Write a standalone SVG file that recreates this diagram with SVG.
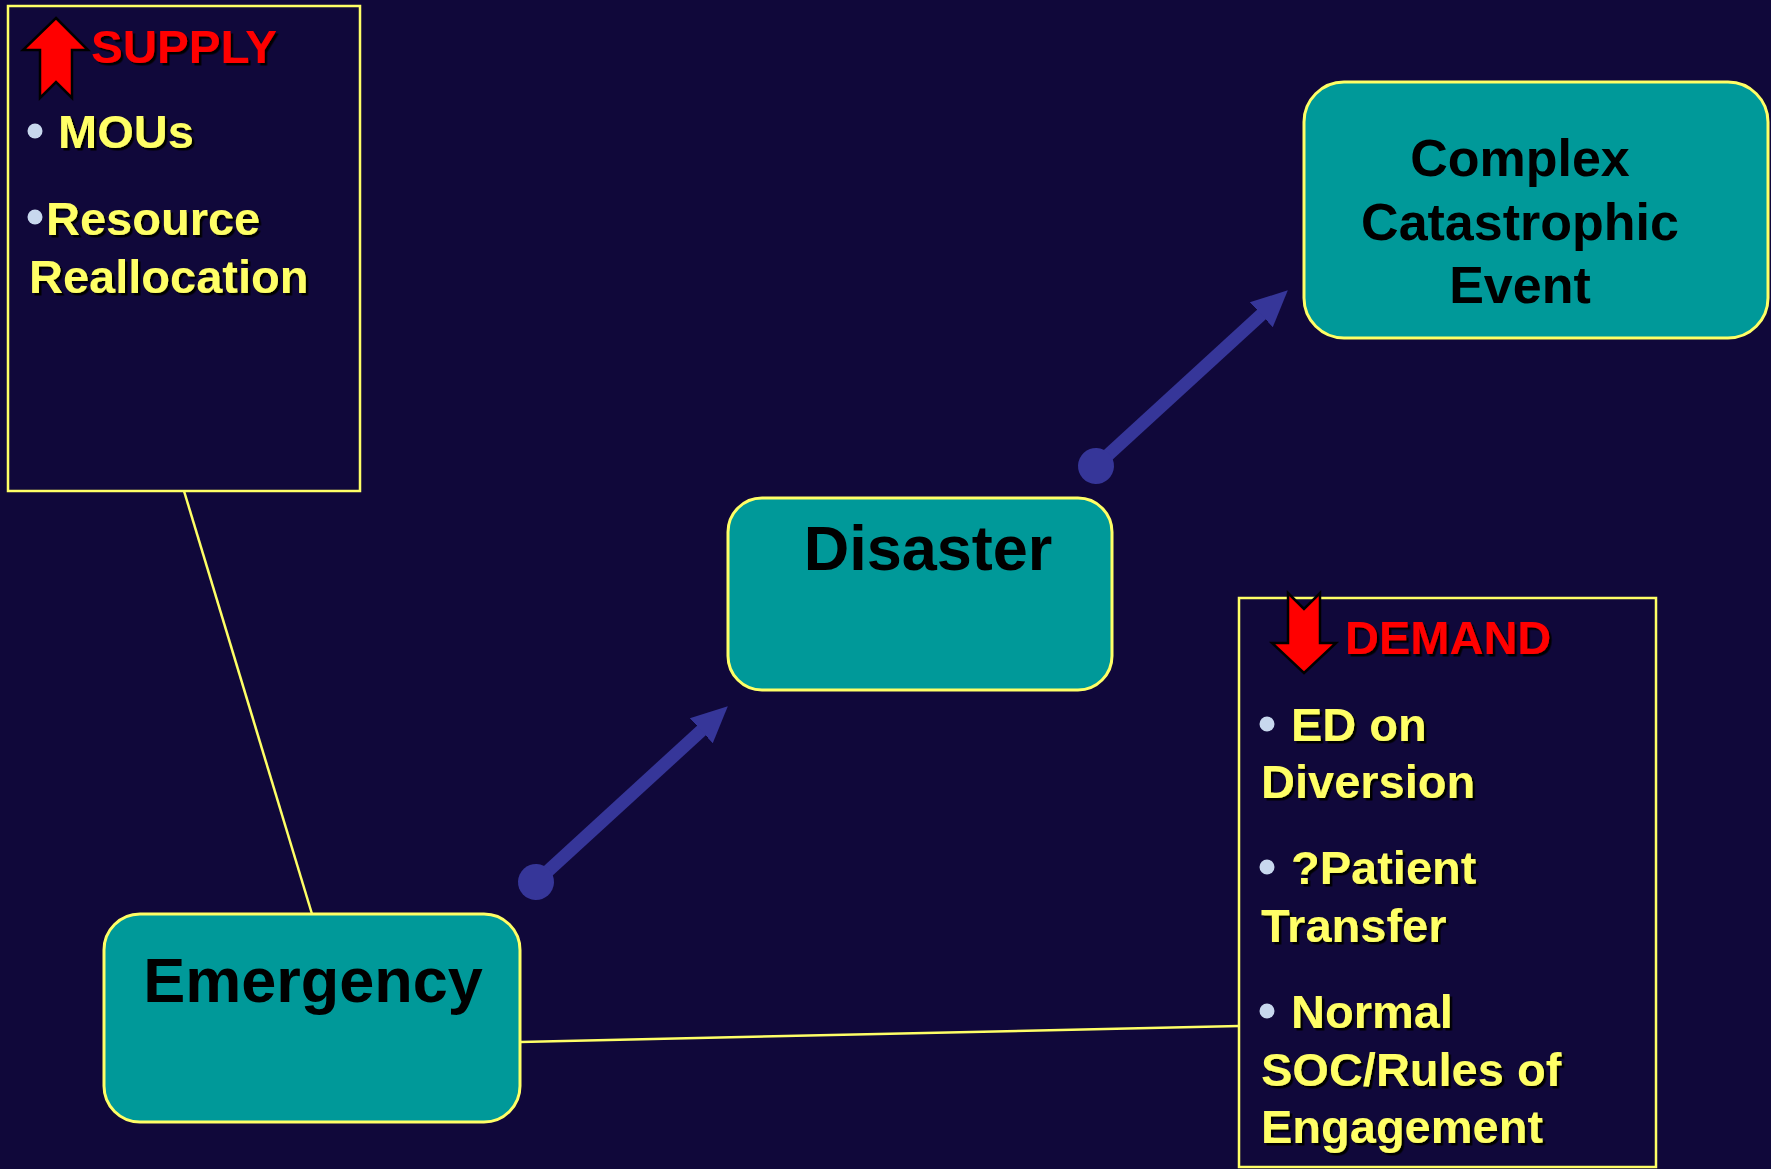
<svg xmlns="http://www.w3.org/2000/svg" width="1771" height="1169" viewBox="0 0 1771 1169">
<style>
.bg{fill:#10083A}
.box{fill:#009999;stroke:#FFFF66;stroke-width:3}
.panel{fill:none;stroke:#FFFF66;stroke-width:2.5}
.node{font-family:"Liberation Sans",Arial,sans-serif;font-weight:bold;fill:#000000}
.yel{font-family:"Liberation Sans",Arial,sans-serif;font-weight:bold;font-size:47px;fill:#FFFF66;filter:url(#sh)}
.red{font-family:"Liberation Sans",Arial,sans-serif;font-weight:bold;font-size:47px;fill:#FF0000;filter:url(#sh)}
.bul{fill:#C8D8EE}
.conn{stroke:#FFFF66;stroke-width:2.5;fill:none}
.flow{stroke:#363699;stroke-width:13;fill:none;marker-start:url(#dot);marker-end:url(#head)}
.bigarrow{fill:#FF0000;stroke:#000000;stroke-width:2.5;stroke-linejoin:miter}
</style>
<defs>
<filter id="sh" x="-10%" y="-20%" width="130%" height="150%">
<feDropShadow dx="2.5" dy="2.5" stdDeviation="0.6" flood-color="#000000" flood-opacity="1"/>
</filter>
<marker id="head" markerUnits="userSpaceOnUse" viewBox="0 -18 37 36" refX="1" refY="0" markerWidth="37" markerHeight="36" orient="auto">
<path d="M0,-17 L36,0 L0,17 Z" fill="#363699"/>
</marker>
<marker id="dot" markerUnits="userSpaceOnUse" viewBox="-19 -19 38 38" refX="0" refY="0" markerWidth="38" markerHeight="38" orient="auto">
<circle cx="0" cy="0" r="18" fill="#363699"/>
</marker>
</defs>
<rect class="bg" x="0" y="0" width="1771" height="1169"/>

<g id="connectors">
<line class="conn" x1="184" y1="491" x2="312" y2="914"/>
<line class="conn" x1="520" y1="1042" x2="1239" y2="1026"/>
<path class="flow" d="M536,882 L702,730"/>
<path class="flow" d="M1096,466 L1262,314"/>
</g>

<g id="supply">
<rect class="panel" x="8" y="6" width="352" height="485"/>
<polygon class="bigarrow" points="56,18 88,50 72,50 72,98 56,82 40,98 40,50 23,50"/>
<text class="red" x="91" y="63" textLength="186" lengthAdjust="spacingAndGlyphs">SUPPLY</text>
<circle class="bul" cx="35" cy="131" r="7.5"/>
<text class="yel" x="58" y="148">MOUs</text>
<circle class="bul" cx="35" cy="217" r="7.5"/>
<text class="yel" x="46" y="235">Resource</text>
<text class="yel" x="29" y="293">Reallocation</text>
</g>

<g id="demand">
<rect class="panel" x="1239" y="598" width="417" height="569"/>
<polygon class="bigarrow" points="1288,593 1304,609 1320,593 1320,643 1336,643 1304,673 1272,643 1288,643"/>
<text class="red" x="1345" y="654">DEMAND</text>
<circle class="bul" cx="1267" cy="724" r="7.5"/>
<text class="yel" x="1291" y="741">ED on</text>
<text class="yel" x="1261" y="798">Diversion</text>
<circle class="bul" cx="1267" cy="867" r="7.5"/>
<text class="yel" x="1291" y="884">?Patient</text>
<text class="yel" x="1261" y="942">Transfer</text>
<circle class="bul" cx="1267" cy="1011" r="7.5"/>
<text class="yel" x="1291" y="1028">Normal</text>
<text class="yel" x="1261" y="1086">SOC/Rules of</text>
<text class="yel" x="1261" y="1143">Engagement</text>
</g>

<g id="emergency">
<rect class="box" x="104" y="914" width="416" height="208" rx="36" ry="36"/>
<text class="node" x="313" y="1002" font-size="63" text-anchor="middle">Emergency</text>
</g>

<g id="disaster">
<rect class="box" x="728" y="498" width="384" height="192" rx="34" ry="34"/>
<text class="node" x="928" y="570" font-size="63" text-anchor="middle">Disaster</text>
</g>

<g id="complex">
<rect class="box" x="1304" y="82" width="464" height="256" rx="40" ry="40"/>
<text class="node" x="1520" y="176" font-size="52" text-anchor="middle">Complex</text>
<text class="node" x="1520" y="240" font-size="52" text-anchor="middle">Catastrophic</text>
<text class="node" x="1520" y="303" font-size="52" text-anchor="middle">Event</text>
</g>
</svg>
